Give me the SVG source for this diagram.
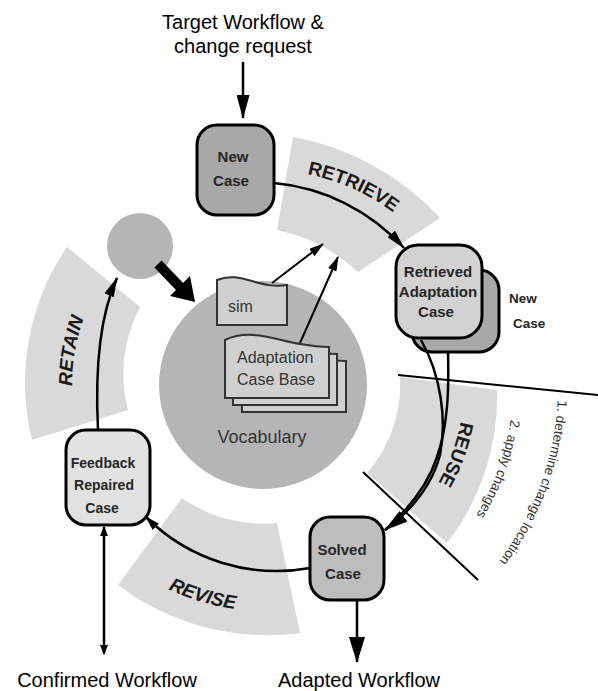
<svg xmlns="http://www.w3.org/2000/svg" width="598" height="691" viewBox="0 0 598 691">
<defs>
<style>
.band{fill:#d9d9d9;stroke:none}
.node{stroke:#000;stroke-width:3}
.nt{font-family:"Liberation Sans",Arial,sans-serif;font-weight:bold;fill:#262626;text-anchor:middle}
.lbl{font-family:"Liberation Sans",Arial,sans-serif;font-weight:bold;font-size:19px;fill:#1a1a1a}
.it{font-style:italic}
.io{font-family:"Liberation Sans",Arial,sans-serif;font-size:20px;fill:#000;text-anchor:middle}
.step{font-family:"Liberation Sans",Arial,sans-serif;font-size:13.5px;fill:#333}
.doc{fill:#d0d0d0;stroke:#333;stroke-width:2}
.dt{font-family:"Liberation Sans",Arial,sans-serif;font-size:16px;fill:#333}
.con{fill:none;stroke:#000;stroke-width:2.5}
.thin{fill:none;stroke:#000;stroke-width:2}
</style>
<marker id="ah" markerUnits="userSpaceOnUse" markerWidth="20" markerHeight="10" refX="19" refY="5" orient="auto"><path d="M0,0 L20,5 L0,10 z" fill="#000"/></marker>
<marker id="ahs" markerUnits="userSpaceOnUse" markerWidth="15" markerHeight="9" refX="14" refY="4.5" orient="auto"><path d="M0,0 L15,4.5 L0,9 z" fill="#000"/></marker>
<marker id="ahd" markerUnits="userSpaceOnUse" markerWidth="10" markerHeight="8" refX="9" refY="4" orient="auto-start-reverse"><path d="M0,0 L10,4 L0,8 z" fill="#000"/></marker>
<marker id="ahb" markerUnits="userSpaceOnUse" markerWidth="24" markerHeight="13" refX="23" refY="6.5" orient="auto"><path d="M0,0 L24,6.5 L0,13 z" fill="#000"/></marker>
<marker id="ahv" markerUnits="userSpaceOnUse" markerWidth="26" markerHeight="16" refX="25" refY="8" orient="auto"><path d="M0,0 L26,8 L0,16 z" fill="#000"/></marker>
<path id="pRetrieve" d="M294.9,172.1 A215,215 0 0 1 403.2,220.3"/>
<path id="pReuse" d="M463.2,402.3 A199,199 0 0 1 428.0,499.1"/>
<path id="pRevise" d="M135.4,570.1 A226,226 0 0 0 272.9,610.9"/>
<path id="pRetain" d="M73.9,411.9 A193,193 0 0 1 94.6,294.4"/>
<path id="pStep1" d="M557.6,400.3 A293,293 0 0 1 453.3,609.4"/>
<path id="pStep2" d="M510.6,419.5 A248,248 0 0 1 424.4,575.0"/>
<path id="docShape" d="M225,340 C250,328 275,340 300,344 C312,346 320,347 329,347 L329,398 L225,398 Z"/>
</defs>

<g id="bands">
<path class="band" d="M293,137 A262,262 0 0 1 440,218 L358,272 A165,165 0 0 0 277,230 Z"/>
<path class="band" d="M400,377 L497,390 A238,238 0 0 1 447,543 L367,473 A135,135 0 0 0 400,377 Z"/>
<path class="band" d="M182,498 L118,585 A248,248 0 0 0 300,633 L277,523 A140,140 0 0 1 182,498 Z"/>
<path class="band" d="M67,247 A240,240 0 0 0 32,440 L128,410 A143,143 0 0 1 140,307 Z"/>
<text class="lbl"><textPath href="#pRetrieve" startOffset="50%" text-anchor="middle">RETRIEVE</textPath></text>
<text class="lbl"><textPath href="#pReuse" startOffset="50%" text-anchor="middle">REUSE</textPath></text>
<text class="lbl it"><textPath href="#pRevise" startOffset="50%" text-anchor="middle">REVISE</textPath></text>
<text class="lbl it"><textPath href="#pRetain" startOffset="50%" text-anchor="middle">RETAIN</textPath></text>
</g>

<g id="vocabulary">
<circle cx="263" cy="385" r="104" fill="#b5b5b5"/>
<text x="262" y="443" font-family="Liberation Sans, Arial, sans-serif" font-size="18" fill="#333" text-anchor="middle">Vocabulary</text>
</g>

<g id="sim">
<path class="doc" d="M217,280 C240,270 260,290 287,285 L287,325 L217,325 Z"/>
<text class="dt" x="228" y="312" font-size="18">sim</text>
</g>

<g id="adaptation-case-base">
<use href="#docShape" class="doc" transform="translate(17,14)"/>
<use href="#docShape" class="doc" transform="translate(8,7)"/>
<use href="#docShape" class="doc"/>
<text class="dt" x="237" y="363">Adaptation</text>
<text class="dt" x="237" y="385">Case Base</text>
</g>

<g id="store">
<circle cx="140" cy="246" r="33" fill="#b5b5b5"/>
</g>

<g id="new-case">
<rect class="node" x="197" y="125" width="77" height="90" rx="20" fill="#a8a8a8"/>
<text class="nt" x="233" y="162" font-size="15">New</text>
<text class="nt" x="231" y="186" font-size="15">Case</text>
</g>

<g id="retrieved-case">
<rect class="node" x="412" y="270" width="87" height="82" rx="20" fill="#a8a8a8"/>
<rect class="node" x="396" y="245" width="86" height="93" rx="22" fill="#d2d2d2"/>
<text class="nt" x="438" y="277" font-size="15">Retrieved</text>
<text class="nt" x="438" y="297" font-size="15">Adaptation</text>
<text class="nt" x="436" y="317" font-size="15">Case</text>
<text class="nt" x="509" y="303" font-size="13.5" style="text-anchor:start">New</text>
<text class="nt" x="513" y="328" font-size="13.5" style="text-anchor:start">Case</text>
</g>

<g id="solved-case">
<rect class="node" x="310" y="517" width="74" height="83" rx="20" fill="#bdbdbd"/>
<text class="nt" x="342" y="555" font-size="15">Solved</text>
<text class="nt" x="343" y="579" font-size="15">Case</text>
</g>

<g id="feedback-case">
<rect class="node" x="66" y="430" width="84" height="95" rx="20" fill="#e2e2e2"/>
<text class="nt" x="103" y="468" font-size="14">Feedback</text>
<text class="nt" x="104" y="490" font-size="14">Repaired</text>
<text class="nt" x="102" y="513" font-size="14">Case</text>
</g>

<g id="io-labels">
<text class="io" x="243" y="29">Target Workflow &amp;</text>
<text class="io" x="243" y="53">change request</text>
<text class="io" x="107" y="687">Confirmed Workflow</text>
<text class="io" x="359" y="687">Adapted Workflow</text>
</g>

<g id="steps">
<text class="step"><textPath href="#pStep1">1. determine change location</textPath></text>
<text class="step"><textPath href="#pStep2">2. apply changes</textPath></text>
</g>

<g id="connectors">
<line class="con" x1="243" y1="62" x2="243" y2="118" marker-end="url(#ahb)"/>
<path class="con" d="M274,183 A200,200 0 0 1 404,248" marker-end="url(#ah)"/>
<path class="con" d="M448,352 C449,390 448,425 437,457 C428,485 410,508 385,530"/>
<path class="con" d="M421,340 C441,375 447,420 440,455 C432,485 412,510 385,530" marker-end="url(#ahb)"/>
<path class="con" d="M310,568 A185,185 0 0 1 146,517" marker-end="url(#ahs)"/>
<path class="con" d="M98,430 C95,370 100,315 117,278" marker-end="url(#ah)"/>
<line class="con" x1="357" y1="600" x2="357" y2="662" marker-end="url(#ahv)"/>
<line class="con" x1="104" y1="527" x2="104" y2="654" marker-start="url(#ahd)" marker-end="url(#ahd)"/>
<line class="thin" x1="272" y1="283" x2="323" y2="244" marker-end="url(#ahs)"/>
<line class="thin" x1="300" y1="343" x2="338" y2="257" marker-end="url(#ahs)"/>
<line x1="158" y1="264" x2="181" y2="288" stroke="#000" stroke-width="10"/>
<path d="M170,296 L190,276 L195,302 Z" fill="#000"/>
<line class="thin" x1="398" y1="375" x2="598" y2="395"/>
<line class="thin" x1="363" y1="472" x2="478" y2="580"/>
</g>
</svg>
